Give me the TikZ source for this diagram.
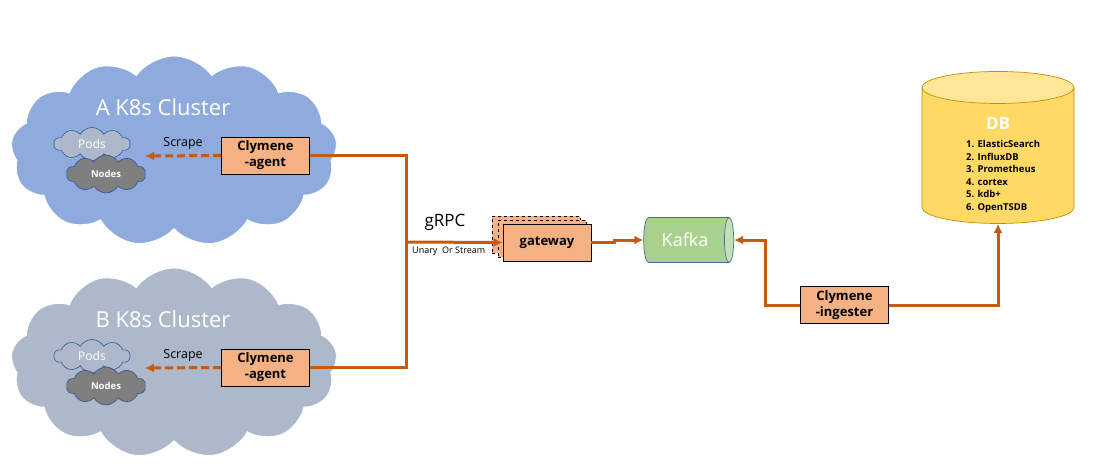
\documentclass[tikz,border=0pt]{standalone}
\usepackage{fontspec}
\setmainfont{Open Sans}
\usetikzlibrary{shapes.symbols, shapes.geometric, arrows.meta}

\definecolor{clusterA}{HTML}{8FAADC}
\definecolor{clusterB}{HTML}{ADB9CA}
\definecolor{podA}{HTML}{ADB9CA}
\definecolor{nodegray}{HTML}{7F7F7F}
\definecolor{cloudline}{HTML}{2F5597}
\definecolor{agentfill}{HTML}{F4B183}
\definecolor{linkorange}{HTML}{C55A11}
\definecolor{kafkabody}{HTML}{A9D18E}
\definecolor{kafkaend}{HTML}{C5E0B4}
\definecolor{kafkaline}{HTML}{41719C}
\definecolor{dbbody}{HTML}{FFD966}
\definecolor{dbtop}{HTML}{FFE699}
\definecolor{dbline}{HTML}{BF9000}

\tikzset{
	cluster/.style={cloud, cloud puffs=13, cloud puff arc=110, cloud ignores aspect, draw=white, line width=0.8pt, minimum width=326pt, minimum height=190pt},
	minicloud/.style={cloud, cloud puffs=10, cloud puff arc=120, cloud ignores aspect, draw=cloudline, line width=0.6pt},
	comp/.style={draw=black, fill=agentfill, line width=0.8pt, minimum width=88pt, minimum height=37pt, inner sep=0pt, align=center, font=\bfseries\fontsize{13}{16}\selectfont},
	link/.style={draw=linkorange, line width=3pt, >={Latex[length=9pt, width=9pt]}},
}

\begin{document}
\begin{tikzpicture}[x=1pt, y=-1pt]
	\useasboundingbox (0,0) rectangle (1095,471);
	
	% the two clusters
	\foreach \c/\dy/\bg/\pod in {A/0/clusterA/podA, B/212/clusterB/clusterB} {
		\node[cluster, fill=\bg] (cloud\c) at (174,151+\dy) {};
		\node[text=white, font=\fontsize{22}{25}\selectfont] (title\c) at (163,107+\dy) {\c\ K8s Cluster};
		\node[minicloud, fill=\pod, minimum width=76pt, minimum height=33pt, text=white, font=\fontsize{12}{14}\selectfont] (pods\c) at (92,144+\dy) {Pods};
		\node[minicloud, fill=nodegray, minimum width=79pt, minimum height=38pt, text=white, font=\bfseries\fontsize{9.5}{11}\selectfont] (nodes\c) at (106,174+\dy) {Nodes};
		\node[comp] (agent\c) at (265.5,155.5+\dy) {Clymene\\-agent};
		\coordinate (tip\c) at (145,156+\dy);
		\draw[link, dash pattern=on 8pt off 4pt, ->] (agent\c.west) -- (tip\c) node[midway, above=1pt, text=black, font=\fontsize{12.5}{14}\selectfont] {Scrape};
	}
	
	% gRPC
	\coordinate (join) at (406,242);
	\node[font=\fontsize{17}{19}\selectfont] (grpc) at (445,222) {gRPC};
	\node[anchor=west, inner sep=0pt, font=\fontsize{9}{10}\selectfont] (mode) at (412,251) {Unary\ \ Or Stream};
	\node[comp, dashed, line width=0.5pt] (gwback2) at (536,234.5) {};
	\node[comp, dashed, line width=0.5pt] (gwback1) at (542,238.5) {};
	\node[comp] (gateway) at (547,242.5) {gateway};
	\draw[link] (agentA.east) -| (join);
	\draw[link] (agentB.east) -| (join);
	\draw[link, ->] (join) -- (gateway.west);
	
	% kafka
	\node[cylinder, draw=kafkaline, line width=0.7pt, cylinder uses custom fill, cylinder body fill=kafkabody, cylinder end fill=kafkaend, aspect=0.45, minimum height=90pt, minimum width=45pt, text=white, font=\fontsize{18}{20}\selectfont] (kafka) at (685,240) {Kafka};
	\draw[link, ->] (gateway.east) -- ++(23,0) |- (kafka.west);
	
	% db
	\node[cylinder, shape border rotate=90, draw=dbline, line width=0.7pt, cylinder uses custom fill, cylinder body fill=dbbody, cylinder end fill=dbtop, aspect=4.8, minimum width=152pt, minimum height=152pt] (db) at (998,158) {};
	\node[text=white, font=\bfseries\fontsize{17}{20}\selectfont] (dbtitle) at (998,123) {DB};
	\node[anchor=north west, align=left, inner sep=0pt, font=\bfseries\fontsize{9.5}{12.6}\selectfont] (dblist) at (966,140) {1. ElasticSearch\\2. InfluxDB\\3. Prometheus\\4. cortex\\5. kdb+\\6. OpenTSDB};
	
	% ingester
	\node[comp] (ingester) at (844.5,305) {Clymene\\-ingester};
	\draw[link, ->] (ingester.west) -- ++(-35,0) |- (kafka.east);
	\draw[link, ->] (ingester.east) -| (db.south);
\end{tikzpicture}
\end{document}
